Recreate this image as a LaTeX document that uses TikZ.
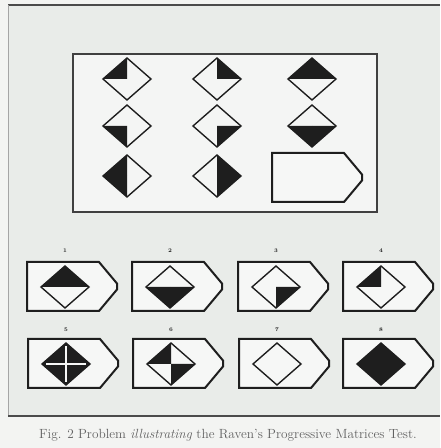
\documentclass[tikz,border=0pt]{standalone}
\usepackage{tikz}
\usetikzlibrary{positioning, calc}
\definecolor{panelgray}{HTML}{E9ECE9}
\definecolor{pagegray}{HTML}{F3F4F2}
\definecolor{inkgray}{HTML}{1E1E1E}

\tikzset{
    gemline/.style={draw=inkgray, line width=1.4pt, line join=miter},
    tagline/.style={draw=inkgray, line width=2pt, line join=miter, fill=white!60!panelgray},
    numlabel/.style={font=\fontsize{5.5}{6}\selectfont\bfseries, text=inkgray},
    % one outlined diamond and its four black quarters
    gem/.pic={\draw[gemline] (-24,0) -- (0,21) -- (24,0) -- (0,-21) -- cycle;},
    tl/.pic={\fill[inkgray] (0,0) -- (-24,0) -- (0,21) -- cycle;},
    tr/.pic={\fill[inkgray] (0,0) -- (24,0) -- (0,21) -- cycle;},
    bl/.pic={\fill[inkgray] (0,0) -- (-24,0) -- (0,-21) -- cycle;},
    br/.pic={\fill[inkgray] (0,0) -- (24,0) -- (0,-21) -- cycle;},
    % answer card, anchored at its lower left corner
    tag/.pic={\draw[tagline] (0,0) -- (0,49) -- (72,49) -- (90,27.5) -- (90,21.5) -- (72,0) -- cycle;}
}

\begin{document}
\begin{tikzpicture}[x=1pt, y=1pt]
    \useasboundingbox (0,0) rectangle (440,448);
    \fill[pagegray] (0,0) rectangle (440,448);

    % Panel
    \fill[panelgray] (8,32) rectangle (440,443);
    \coordinate (pnw) at (8,443);
    \coordinate (pne) at (440,443);
    \coordinate (psw) at (8,32);
    \coordinate (pse) at (440,32);
    \draw[inkgray!80, line width=2pt] (pnw) -- (pne);
    \draw[inkgray!40, line width=0.8pt] (pnw) -- (psw);
    \draw[inkgray!80, line width=2pt] (psw) -- (pse);

    % Matrix
    \node[draw=inkgray!85, line width=1.5pt, fill=white!50!panelgray, minimum width=304pt, minimum height=158pt, inner sep=0pt] (matrix) at (225,315) {};
    \foreach \x/\y/\q in {127/369/tl, 217/369/tr, 312/369/{tl,tr},
                          127/322/bl, 217/322/br, 312/322/{bl,br},
                          127/272/{tl,bl}, 217/272/{tr,br}} {
        \foreach \p in \q {\pic at (\x,\y) {\p};}
        \pic at (\x,\y) {gem};
    }
    \pic at (272,246) {tag};

    % Options 1-4
    \foreach \n/\x/\q in {1/27/{tl,tr}, 2/132/{bl,br}, 3/238/br, 4/343/tl} {
        \pic at (\x,137) {tag};
        \foreach \p in \q {\pic at ($(\x,161)+(38,0)$) {\p};}
        \pic at ($(\x,161)+(38,0)$) {gem};
        \node[numlabel] (num\n) at ($(\x,197)+(38,0)$) {\n};
    }

    % Options 5-8
    \foreach \n/\x/\q in {5/28/{tl,tr,bl,br}, 6/133/{tl,br}, 7/239/{}, 8/343/{tl,tr,bl,br}} {
        \pic at (\x,60) {tag};
        \foreach \p in \q {\pic at ($(\x,84)+(38,0)$) {\p};}
        \pic at ($(\x,84)+(38,0)$) {gem};
        \node[numlabel] (num\n) at ($(\x,118)+(38,0)$) {\n};
    }
    \draw[white!60!panelgray, line width=1.6pt] (46,84) -- (86,84) (66,66) -- (66,102);

    % Caption
    \node[font=\fontsize{13.3}{14}\selectfont, text=inkgray!70] (caption) at (228,13)
        {Fig. 2 Problem \textit{illustrating} the Raven's Progressive Matrices Test.};
\end{tikzpicture}
\end{document}
